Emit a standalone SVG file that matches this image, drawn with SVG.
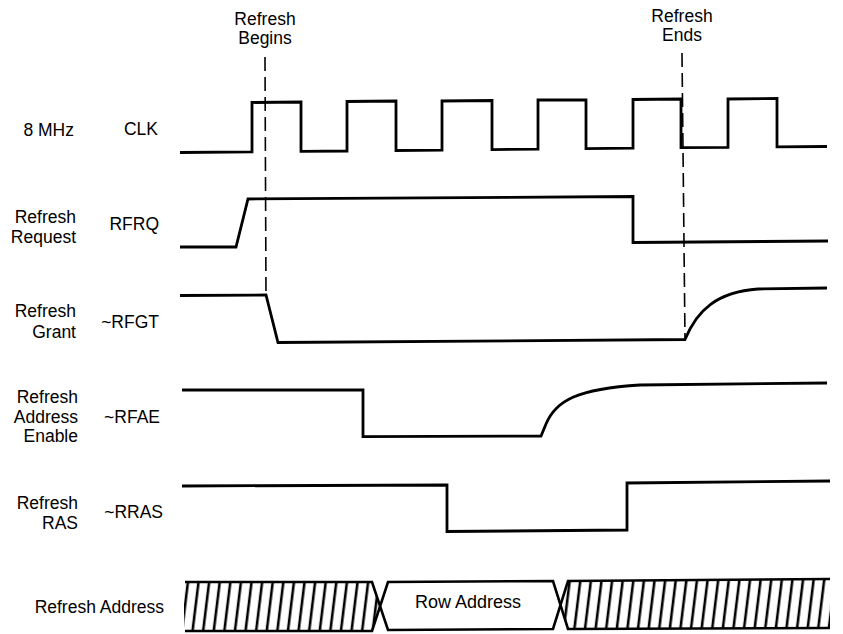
<svg xmlns="http://www.w3.org/2000/svg" width="843" height="634" viewBox="0 0 843 634">
<style>
text{font-family:"Liberation Sans",Arial,Helvetica,sans-serif;font-size:17.5px;fill:#000}
.r{text-anchor:end}
.m{text-anchor:middle}
.sig{fill:none;stroke:#000;stroke-width:2.8;stroke-linejoin:miter;stroke-linecap:butt}
.dash{fill:none;stroke:#000;stroke-width:1.6;stroke-dasharray:14 6}
.bus{fill:none;stroke:#000;stroke-width:2.6}
</style>
<defs>
<pattern id="hatch" patternUnits="userSpaceOnUse" width="10.6" height="60" patternTransform="skewX(-7)">
<line x1="5" y1="-5" x2="5" y2="65" stroke="#000" stroke-width="2.6"/>
</pattern>
<clipPath id="cl"><polygon points="184,582 372,582 380,606 372,631 184,631"/></clipPath>
<clipPath id="cr"><polygon points="568,581 830,579 830,628 568,629 560,605"/></clipPath>
</defs>
<rect width="843" height="634" fill="#fff"/>

<g id="markers">
<text class="m" x="265" y="25">Refresh</text>
<text class="m" x="265" y="44">Begins</text>
<text class="m" x="682" y="22">Refresh</text>
<text class="m" x="682" y="41">Ends</text>
</g>

<g id="connectors">
<line class="dash" x1="265" y1="57" x2="266" y2="295"/>
<line class="dash" x1="682" y1="53" x2="685" y2="339"/>
</g>

<g id="clk">
<text class="r" x="74" y="136">8 MHz</text>
<text class="r" x="158" y="135">CLK</text>
<path class="sig" d="M180,152.5 L252,151.8 L252,102.5 L301,102 L301,151.4 L347,151 L347,101.5 L396,101 L396,150.5 L442,150.1 L442,101 L492,100.5 L492,149.6 L538,149.2 L538,100 L586,100 L586,148.6 L633,148.2 L633,99.5 L681,99 L681,147.7 L728,147.3 L728,99 L777,98.5 L777,146.9 L827,146.5"/>
</g>

<g id="rfrq">
<text class="r" x="76" y="223">Refresh</text>
<text class="r" x="76" y="243">Request</text>
<text class="r" x="159" y="230">RFRQ</text>
<path class="sig" d="M180,247 L236,247 L248,199 L633,196.5 L633,242.5 L828,241"/>
</g>

<g id="rfgt">
<text class="r" x="76" y="317">Refresh</text>
<text class="r" x="76" y="338">Grant</text>
<text class="r" x="159" y="328">~RFGT</text>
<path class="sig" d="M180,295.5 L266,295 L278,342.5 L685,339.5 C697,310 717,292 758,289 L827,288"/>
</g>

<g id="rfae">
<text class="r" x="78" y="403">Refresh</text>
<text class="r" x="78" y="423">Address</text>
<text class="r" x="78" y="442">Enable</text>
<text class="r" x="160" y="423">~RFAE</text>
<path class="sig" d="M182,390 L363,390 L363,436.7 L541,436 L546,424 C556,400 578,389 640,385 L827,383"/>
</g>

<g id="rras">
<text class="r" x="78" y="509">Refresh</text>
<text class="r" x="78" y="529">RAS</text>
<text class="r" x="163" y="518">~RRAS</text>
<path class="sig" d="M182,486 L447,485 L447,531.5 L627,530 L627,483 L830,481"/>
</g>

<g id="refresh-address">
<text class="r" x="164" y="613">Refresh Address</text>
<rect x="180" y="575" width="200" height="60" fill="url(#hatch)" clip-path="url(#cl)"/>
<rect x="555" y="575" width="280" height="60" fill="url(#hatch)" clip-path="url(#cr)"/>
<path class="bus" d="M185,582 L372,582 L388,630 L553,629 L568,581 L830,579"/>
<path class="bus" d="M185,631 L372,631 L388,582 L553,581 L568,629 L830,628"/>
<text class="m" x="468" y="608" style="font-size:18px">Row Address</text>
</g>
</svg>
